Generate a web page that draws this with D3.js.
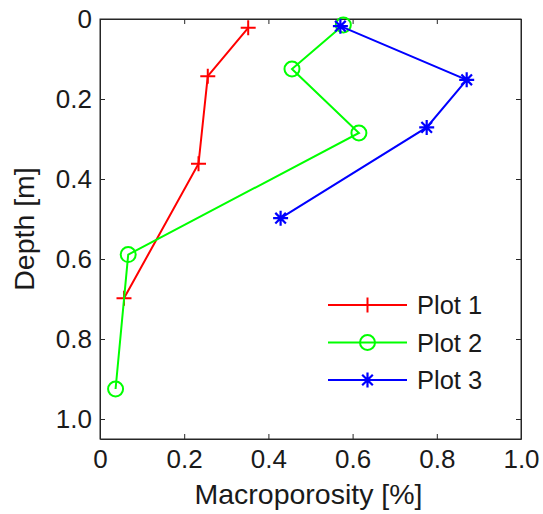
<!DOCTYPE html>
<html><head><meta charset="utf-8">
<script src="https://cdn.jsdelivr.net/npm/d3@7"></script>
<style>body{margin:0;background:#fff;} text{font-family:"Liberation Sans",Arial,Helvetica,sans-serif;fill:#1a1a1a;}</style>
</head><body><svg id="c" width="543" height="514"></svg>
<script>
const seriesNames = ["Plot 1", "Plot 2", "Plot 3"];
const plot1X = [0.352, 0.256, 0.234, 0.057];
const plot1Depth = [0.022, 0.143, 0.362, 0.698];
const plot2X = [0.578, 0.456, 0.615, 0.067, 0.037];
const plot2Depth = [0.015, 0.125, 0.285, 0.589, 0.925];
const plot3X = [0.571, 0.871, 0.776, 0.429];
const plot3Depth = [0.018, 0.152, 0.271, 0.498];
const xTicks = [0, 0.2, 0.4, 0.6, 0.8, 1.0];
const xTickLabels = ["0", "0.2", "0.4", "0.6", "0.8", "1.0"];
const yTicks = [0, 0.2, 0.4, 0.6, 0.8, 1.0];
const yTickLabels = ["0", "0.2", "0.4", "0.6", "0.8", "1.0"];
const colors = ["#ff0000", "#00ff00", "#0000ff"];
const markers = ["plus", "circle", "star"];

const svg = d3.select("#c");
const L = 100, R = 521, T = 19, B = 439;
const x = d3.scaleLinear().domain([0, 1]).range([L, R]);
const y = d3.scaleLinear().domain([0, 1.05]).range([T, B]);

const series = [
  {name: seriesNames[0], xs: plot1X, ds: plot1Depth},
  {name: seriesNames[1], xs: plot2X, ds: plot2Depth},
  {name: seriesNames[2], xs: plot3X, ds: plot3Depth}
];

const tickLen = 5;
const axCol = "#262626";
const gB = svg.append("g").attr("transform", `translate(0,${B})`)
  .call(d3.axisBottom(x).tickValues(xTicks).tickFormat((d,i)=>xTickLabels[i]).tickSizeInner(-tickLen).tickSizeOuter(0).tickPadding(11));
const gT = svg.append("g").attr("transform", `translate(0,${T})`)
  .call(d3.axisTop(x).tickValues(xTicks).tickFormat("").tickSizeInner(-tickLen).tickSizeOuter(0));
const gL = svg.append("g").attr("transform", `translate(${L},0)`)
  .call(d3.axisLeft(y).tickValues(yTicks).tickFormat((d,i)=>yTickLabels[i]).tickSizeInner(-tickLen).tickSizeOuter(0).tickPadding(8));
const gR = svg.append("g").attr("transform", `translate(${R},0)`)
  .call(d3.axisRight(y).tickValues(yTicks).tickFormat("").tickSizeInner(-tickLen).tickSizeOuter(0));
[gB,gT,gL,gR].forEach(g=>{
  g.selectAll("path.domain").attr("stroke", axCol).attr("stroke-width", 1);
  g.selectAll(".tick line").attr("stroke", axCol);
  g.selectAll(".tick text").style("font-size","26px").style("font-family","'Liberation Sans',Arial,sans-serif").attr("fill","#1a1a1a");
});
svg.append("rect").attr("x", L).attr("y", T).attr("width", R-L).attr("height", B-T)
  .attr("fill","none").attr("stroke", axCol).attr("stroke-width",1);

const line = d3.line().x(d=>x(d[0])).y(d=>y(d[1]));

function drawMarker(g, type, cx, cy, col) {
  if (type === "plus") {
    g.append("path").attr("d", `M${cx-7.5},${cy}H${cx+7.5}M${cx},${cy-7.5}V${cy+7.5}`)
      .attr("stroke", col).attr("stroke-width", 2).attr("fill","none");
  } else if (type === "circle") {
    g.append("circle").attr("cx", cx).attr("cy", cy).attr("r", 7.5)
      .attr("stroke", col).attr("stroke-width", 2).attr("fill","none");
  } else {
    const s = 7.5, t = s*0.7071;
    g.append("path").attr("d",
      `M${cx-s},${cy}H${cx+s}M${cx},${cy-s}V${cy+s}M${cx-t},${cy-t}L${cx+t},${cy+t}M${cx-t},${cy+t}L${cx+t},${cy-t}`)
      .attr("stroke", col).attr("stroke-width", 2.2).attr("fill","none");
  }
}

series.forEach((s, i) => {
  const pts = s.xs.map((v, j) => [v, s.ds[j]]);
  const g = svg.append("g");
  g.append("path").datum(pts).attr("d", line).attr("fill","none")
    .attr("stroke", colors[i]).attr("stroke-width", 2);
  pts.forEach(p => drawMarker(g, markers[i], x(p[0]), y(p[1]), colors[i]));
});

const legX0 = 328, legX1 = 407, legY = [305, 342.5, 380];
series.forEach((s, i) => {
  const g = svg.append("g");
  g.append("line").attr("x1", legX0).attr("x2", legX1).attr("y1", legY[i]).attr("y2", legY[i])
    .attr("stroke", colors[i]).attr("stroke-width", 2);
  drawMarker(g, markers[i], (legX0+legX1)/2, legY[i], colors[i]);
  g.append("text").attr("x", 417).attr("y", legY[i]).attr("dy","0.36em")
    .style("font-size","25.5px").text(s.name);
});

svg.append("text").attr("x", (L+R)/2 - 2).attr("y", 504).attr("text-anchor","middle")
  .style("font-size","28.5px").text("Macroporosity [%]");
svg.append("text").attr("transform", `translate(34,${(T+B)/2}) rotate(-90)`).attr("text-anchor","middle")
  .style("font-size","28.5px").text("Depth [m]");
</script></body></html>
